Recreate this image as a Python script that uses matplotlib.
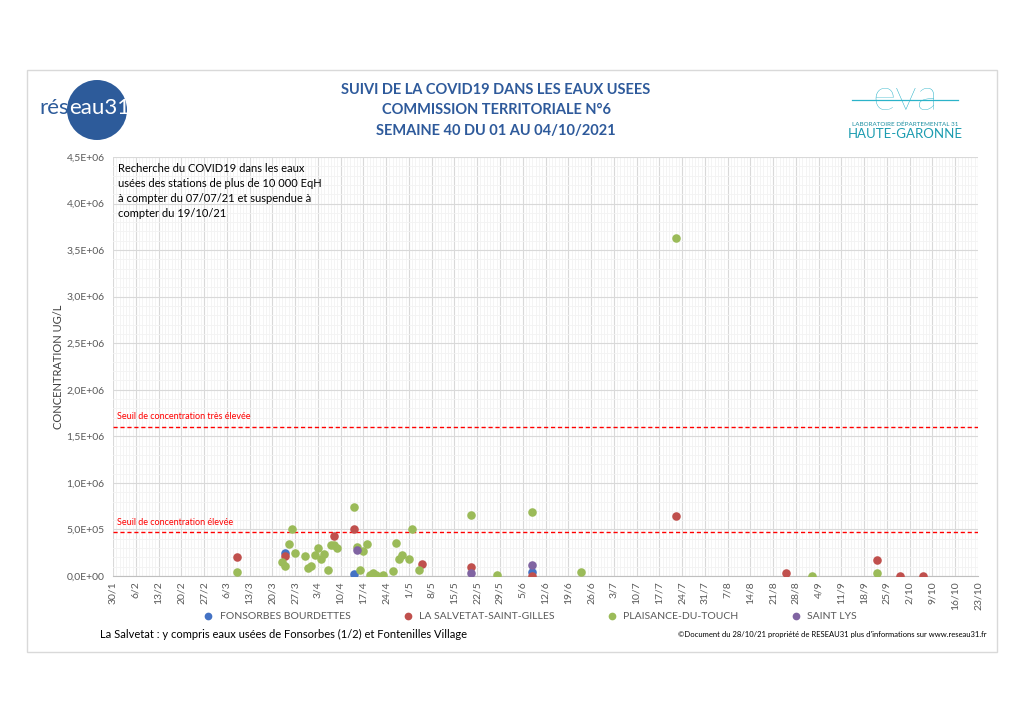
import matplotlib
matplotlib.use('Agg')
import matplotlib.pyplot as plt
import matplotlib.dates as mdates
from matplotlib.patches import Rectangle, Circle
from matplotlib.lines import Line2D
from matplotlib.ticker import FixedLocator, MultipleLocator, FuncFormatter
import pandas as pd

# series names and colours
series_names = ["FONSORBES BOURDETTES", "LA SALVETAT-SAINT-GILLES", "PLAISANCE-DU-TOUCH", "SAINT LYS"]
series_colors = ["#4472C4", "#C0504D", "#9BBB59", "#8064A2"]

# values (ug/L)
fonsorbes_dates = ["2021-03-24", "2021-04-14", "2021-06-08"]
fonsorbes_vals = [2.45e5, 1.8e4, 4.0e4]

salvetat_dates = ["2021-03-09", "2021-03-24", "2021-04-08", "2021-04-14", "2021-05-05",
                  "2021-05-20", "2021-06-08", "2021-07-22", "2021-08-25",
                  "2021-09-22", "2021-09-29", "2021-10-06"]
salvetat_vals = [2.0e5, 2.2e5, 4.3e5, 5.0e5, 1.3e5,
                 9.7e4, 5e3, 6.4e5, 3.5e4,
                 1.72e5, 3e3, 3e3]

plaisance_dates = ["2021-03-09", "2021-03-23", "2021-03-24", "2021-03-25", "2021-03-26",
                   "2021-03-27", "2021-03-30", "2021-03-31", "2021-04-01", "2021-04-02",
                   "2021-04-03", "2021-04-04", "2021-04-05", "2021-04-06", "2021-04-07",
                   "2021-04-08", "2021-04-09", "2021-04-14", "2021-04-15", "2021-04-16",
                   "2021-04-17", "2021-04-18", "2021-04-19", "2021-04-20", "2021-04-21",
                   "2021-04-23", "2021-04-26", "2021-04-27", "2021-04-28", "2021-04-29",
                   "2021-05-01", "2021-05-02", "2021-05-04", "2021-05-20", "2021-05-28",
                   "2021-06-08", "2021-06-23", "2021-07-22", "2021-09-02", "2021-09-22"]
plaisance_vals = [4.6e4, 1.45e5, 1.1e5, 3.4e5, 5.05e5,
                  2.5e5, 2.2e5, 8.3e4, 1.07e5, 2.25e5,
                  3.04e5, 1.8e5, 2.4e5, 6.7e4, 3.33e5,
                  3.33e5, 3.0e5, 7.38e5, 3.15e5, 6.4e4,
                  2.7e5, 3.47e5, 1e4, 3e4, 1e4,
                  1e4, 5e4, 3.58e5, 1.83e5, 2.3e5,
                  1.85e5, 5.0e5, 6.7e4, 6.55e5, 1e4,
                  6.84e5, 4.6e4, 3.63e6, 0, 3e4]

saintlys_dates = ["2021-04-15", "2021-05-20", "2021-06-08"]
saintlys_vals = [2.8e5, 3.5e4, 1.15e5]

# thresholds
seuil_tres_eleve = 1.6e6
seuil_eleve = 4.7e5

all_dates = [fonsorbes_dates, salvetat_dates, plaisance_dates, saintlys_dates]
all_vals = [fonsorbes_vals, salvetat_vals, plaisance_vals, saintlys_vals]

fig = plt.figure(figsize=(10.24, 7.24), dpi=100)
plt.rcParams['font.family'] = ['Lato', 'DejaVu Sans']

# outer frame
fig.patches.append(Rectangle((27/1024, 1-652/724), 970/1024, 582/724, transform=fig.transFigure,
                             fill=False, edgecolor="#d9d9d9", linewidth=1))

ax = fig.add_axes([113/1024, 1-576/724, 865/1024, 419/724])

for name, color, d, v in zip(series_names, series_colors, all_dates, all_vals):
    ax.scatter(pd.to_datetime(d), v, s=38, color=color, label=name, zorder=3, linewidths=0)

# x axis: weekly ticks from 30/1
start = pd.Timestamp("2021-01-30")
end = pd.Timestamp("2021-10-23")
weekly = pd.date_range(start, end, freq="7D")
daily = pd.date_range(start, end, freq="D")
ax.set_xlim(start, end)
ax.xaxis.set_major_locator(FixedLocator(mdates.date2num(weekly)))
ax.xaxis.set_minor_locator(FixedLocator(mdates.date2num(daily)))
ax.xaxis.set_major_formatter(FuncFormatter(lambda x, p: f"{mdates.num2date(x).day}/{mdates.num2date(x).month}"))
plt.setp(ax.get_xticklabels(), rotation=90, fontsize=7.5, color="#595959")

ax.set_ylim(0, 4.5e6)
ax.yaxis.set_major_locator(MultipleLocator(5e5))
ax.yaxis.set_minor_locator(MultipleLocator(1e5))
ax.yaxis.set_major_formatter(FuncFormatter(lambda y, p: f"{y:.1E}".replace(".", ",")))
plt.setp(ax.get_yticklabels(), fontsize=7.5, color="#595959")
ax.set_ylabel("CONCENTRATION UG/L", fontsize=8, color="#404040", labelpad=2)

ax.grid(which="major", color="#d9d9d9", linewidth=0.8, zorder=0)
ax.grid(which="minor", color="#f3f3f3", linewidth=0.6, zorder=0)
ax.tick_params(which="both", length=0)
ax.tick_params(axis="x", pad=4)
ax.tick_params(axis="y", pad=6)
ax.set_axisbelow(True)
for side in ["top", "right", "left"]:
    ax.spines[side].set_visible(False)
ax.spines["bottom"].set_color("#bfbfbf")

# threshold lines
ax.axhline(seuil_tres_eleve, color="#ff0000", linestyle=(0, (3, 2)), linewidth=1, zorder=2)
ax.axhline(seuil_eleve, color="#ff0000", linestyle=(0, (3, 2)), linewidth=1, zorder=2)
ax.text(0.005, seuil_tres_eleve + 6e4, "Seuil de concentration très élevée", transform=ax.get_yaxis_transform(),
        color="#ff0000", fontsize=6.5, va="bottom")
ax.text(0.005, seuil_eleve + 6e4, "Seuil de concentration élevée", transform=ax.get_yaxis_transform(),
        color="#ff0000", fontsize=6.5, va="bottom")

ax.text(0.006, 0.985, "Recherche du COVID19 dans les eaux\nusées des stations de plus de 10 000 EqH\n"
        "à compter du 07/07/21 et suspendue à\ncompter du 19/10/21",
        transform=ax.transAxes, fontsize=8, va="top", ha="left", linespacing=1.45, color="#000000")

# legend
fig.legend(loc="center", bbox_to_anchor=(0.515, 1-616/724), ncol=4, frameon=False, fontsize=7.5,
           labelcolor="#595959", handletextpad=0.1, columnspacing=4.5, markerscale=0.9)

# titles
title_color = "#2E5A9B"
for i, line in enumerate(["SUIVI DE LA COVID19 DANS LES EAUX USEES", "COMMISSION TERRITORIALE N°6",
                          "SEMAINE 40 DU 01 AU 04/10/2021"]):
    fig.text(496/1024, 1-(90 + i*20.5)/724, line, ha="center", va="center", fontsize=10.5,
             fontweight="bold", color=title_color)

# reseau31 logo
fig.patches.append(Circle((0.97, 7.24 - 1.10), 0.30, transform=fig.dpi_scale_trans,
                          facecolor="#2D5B9A", edgecolor="none"))
fig.text(69/1024, 1-108/724, "rés", fontsize=16, color="#2D5B9A", va="center", ha="right")
fig.text(69/1024, 1-108/724, "eau31", fontsize=16, color="white", va="center", ha="left")

# eva logo
eva_color = "#2BB3C9"
fig.text(905/1024, 1-98/724, "eva", fontsize=32, color=eva_color, ha="center", va="center",
         fontweight="light", family=["Lato", "DejaVu Sans"])
fig.add_artist(Line2D([852/1024, 958/1024], [1-100/724, 1-100/724], transform=fig.transFigure,
                      color=eva_color, linewidth=0.9))
fig.text(905/1024, 1-124/724, "LABORATOIRE DÉPARTEMENTAL 31", fontsize=4.5, color="#1C8EA0",
         ha="center", va="center")
fig.text(905/1024, 1-134/724, "HAUTE-GARONNE", fontsize=9.5, color="#1C9CB0",
         ha="center", va="center")

# footer
fig.text(100/1024, 1-634/724, "La Salvetat : y compris eaux usées de Fonsorbes (1/2) et Fontenilles Village",
         fontsize=8, color="#000000", va="center")
fig.text(987/1024, 1-634/724,
         "©Document du 28/10/21 propriété de RESEAU31 plus d'informations sur www.reseau31.fr",
         fontsize=5.5, color="#000000", va="center", ha="right")

fig.savefig("out.png", dpi=100)
